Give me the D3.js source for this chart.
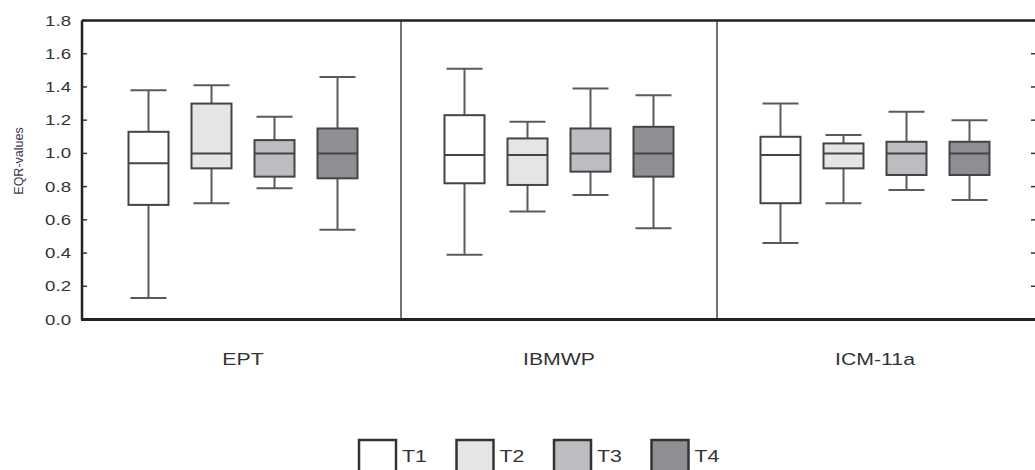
<!DOCTYPE html>
<html>
<head>
<meta charset="utf-8">
<script src="https://cdn.jsdelivr.net/npm/d3@7"></script>
<style>
  html, body { margin: 0; padding: 0; background: #fff; }
  svg { display: block; }
  text { font-family: "Liberation Sans", Arial, sans-serif; fill: #333; }
</style>
</head>
<body>
<svg id="chart" width="1035" height="470"></svg>
<script>
// Indices and treatment periods
const groups = ["EPT", "IBMWP", "ICM-11a"];
const series = ["T1", "T2", "T3", "T4"];
const yTicks = [0, 0.2, 0.4, 0.6, 0.8, 1.0, 1.2, 1.4, 1.6, 1.8];

// Five-number summaries of the EQR values, one array per index: [min, q1, median, q3, max]
const eptStats = [
  [0.13, 0.69, 0.94, 1.13, 1.38],
  [0.70, 0.91, 1.00, 1.30, 1.41],
  [0.79, 0.86, 1.00, 1.08, 1.22],
  [0.54, 0.85, 1.00, 1.15, 1.46]
];
const ibmwpStats = [
  [0.39, 0.82, 0.99, 1.23, 1.51],
  [0.65, 0.81, 0.99, 1.09, 1.19],
  [0.75, 0.89, 1.00, 1.15, 1.39],
  [0.55, 0.86, 1.00, 1.16, 1.35]
];
const icmStats = [
  [0.46, 0.70, 0.99, 1.10, 1.30],
  [0.70, 0.91, 1.00, 1.06, 1.11],
  [0.78, 0.87, 1.00, 1.07, 1.25],
  [0.72, 0.87, 1.00, 1.07, 1.20]
];
const fills = ["#ffffff", "#e4e5e7", "#bcbdc0", "#8e8f92"];

const statsByGroup = [eptStats, ibmwpStats, icmStats];

const svg = d3.select("#chart");
const plotL = 82, plotR = 1037.5, plotT = 20.5, plotB = 319.5;
const sx = 1.33; // horizontal text stretch

const y = d3.scaleLinear().domain([0, 1.8]).range([plotB, plotT]);
const gx = d3.scaleBand().domain(groups).range([plotL + 3, 1033]);
const bw = gx.bandwidth();
const ix = d3.scaleBand().domain(series).range([32, bw - 32]);
const color = d3.scaleOrdinal().domain(series).range(fills);
const boxW = 40, capW = 36;

// Axis ticks (inward on both sides) and labels
const ax = svg.append("g");
yTicks.forEach(t => {
  ax.append("line").attr("x1", plotL).attr("x2", plotL + 5)
    .attr("y1", y(t)).attr("y2", y(t)).attr("stroke", "#333").attr("stroke-width", 1.5);
  ax.append("line").attr("x1", 1031).attr("x2", plotR)
    .attr("y1", y(t)).attr("y2", y(t)).attr("stroke", "#333").attr("stroke-width", 1.5);
  ax.append("text")
    .attr("transform", `translate(${plotL - 11},${y(t) + 5}) scale(${sx},1)`)
    .attr("text-anchor", "end").style("font-size", "14px")
    .text(d3.format(".1f")(t));
});

// Axis title
svg.append("text")
  .attr("transform", `translate(23,161) rotate(-90)`)
  .attr("text-anchor", "middle").style("font-size", "12.5px").style("fill", "#3d3550")
  .text("EQR-values");

// Group dividers
groups.slice(1).forEach(g => {
  svg.append("line").attr("x1", gx(g)).attr("x2", gx(g))
    .attr("y1", plotT).attr("y2", plotB).attr("stroke", "#444").attr("stroke-width", 1.5);
});

// Boxes
groups.forEach((g, gi) => {
  const gg = svg.append("g").attr("transform", `translate(${gx(g)},0)`);
  statsByGroup[gi].forEach((s, si) => {
    const cx = ix(series[si]) + ix.bandwidth() / 2;
    const [mn, q1, md, q3, mx] = s;
    const wc = "#5a5a5a";
    gg.append("line").attr("x1", cx).attr("x2", cx).attr("y1", y(mx)).attr("y2", y(q3))
      .attr("stroke", wc).attr("stroke-width", 2);
    gg.append("line").attr("x1", cx).attr("x2", cx).attr("y1", y(q1)).attr("y2", y(mn))
      .attr("stroke", wc).attr("stroke-width", 2);
    [mn, mx].forEach(v => {
      gg.append("line").attr("x1", cx - capW / 2).attr("x2", cx + capW / 2)
        .attr("y1", y(v)).attr("y2", y(v)).attr("stroke", wc).attr("stroke-width", 2);
    });
    gg.append("rect").attr("x", cx - boxW / 2).attr("width", boxW)
      .attr("y", y(q3)).attr("height", y(q1) - y(q3))
      .attr("fill", color(series[si])).attr("stroke", "#444").attr("stroke-width", 2);
    gg.append("line").attr("x1", cx - boxW / 2).attr("x2", cx + boxW / 2)
      .attr("y1", y(md)).attr("y2", y(md)).attr("stroke", "#444").attr("stroke-width", 2);
  });
  svg.append("text")
    .attr("transform", `translate(${gx(g) + bw / 2},365) scale(${sx},1)`)
    .attr("text-anchor", "middle").style("font-size", "16px")
    .text(g);
});

// Frame
svg.append("line").attr("x1", plotL).attr("x2", plotL).attr("y1", plotT).attr("y2", plotB)
  .attr("stroke", "#222").attr("stroke-width", 2.5);
svg.append("line").attr("x1", plotL).attr("x2", plotR).attr("y1", plotT).attr("y2", plotT)
  .attr("stroke", "#222").attr("stroke-width", 2.5);
svg.append("line").attr("x1", plotL - 1).attr("x2", plotR).attr("y1", plotB).attr("y2", plotB)
  .attr("stroke", "#222").attr("stroke-width", 3);
svg.append("line").attr("x1", plotR).attr("x2", plotR).attr("y1", plotT).attr("y2", plotB)
  .attr("stroke", "#222").attr("stroke-width", 2.5);

// Legend
const lx = d3.scaleBand().domain(series).range([359, 749]);
series.forEach(s => {
  svg.append("rect").attr("x", lx(s)).attr("y", 440).attr("width", 37).attr("height", 34)
    .attr("fill", color(s)).attr("stroke", "#333").attr("stroke-width", 2.5);
  svg.append("text")
    .attr("transform", `translate(${lx(s) + 43},462) scale(${sx},1)`)
    .style("font-size", "16px").text(s);
});
</script>
</body>
</html>
